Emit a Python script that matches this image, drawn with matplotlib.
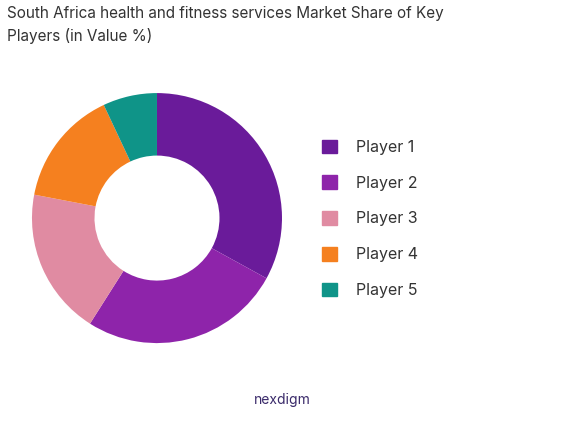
import matplotlib
matplotlib.use("Agg")
import matplotlib.pyplot as plt
from matplotlib.patches import Patch

labels = ["Player 1", "Player 2", "Player 3", "Player 4", "Player 5"]
values = [33, 26, 19, 15, 7]
colors = ["#6a1b9a", "#8e24aa", "#e08ba2", "#f5801f", "#0f9488"]

plt.rcParams['font.family'] = ['Inter', 'DejaVu Sans']
fig = plt.figure(figsize=(5.65, 4.21), dpi=100)
ax = fig.add_axes([0.0566, 0.185, 0.4425, 0.594])
ax.pie(values, colors=colors, startangle=90, counterclock=False,
       wedgeprops=dict(width=0.5, edgecolor="white", linewidth=0))
ax.set_xlim(-1, 1)
ax.set_ylim(-1, 1)
ax.set_aspect("equal")
fig.text(0.012, 0.985, "South Africa health and fitness services Market Share of Key\nPlayers (in Value %)",
         ha="left", va="top", fontsize=11, color="#333333", linespacing=1.55)
handles = [Patch(color=c) for c in colors]
fig.legend(handles, labels, loc="center left", bbox_to_anchor=(0.545, 0.48), frameon=False,
           fontsize=11.5, handlelength=0.9, handleheight=0.9, labelspacing=1.3, handletextpad=1.2,
           labelcolor="#333333")
fig.text(0.5, 0.04, "nexdigm", ha="center", fontsize=10, color="#3a2a6a")
fig.savefig("out.png", dpi=100)
